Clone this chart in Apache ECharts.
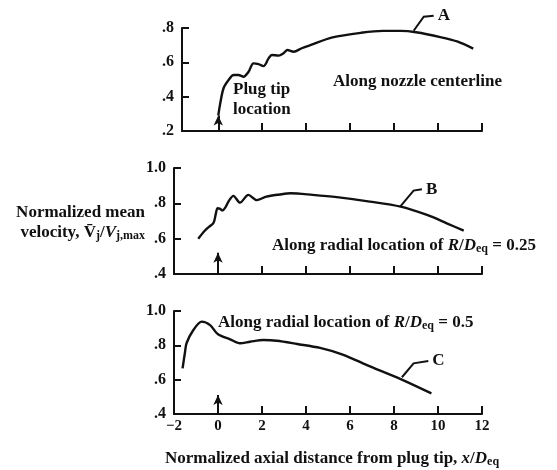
<!DOCTYPE html>
<html><head><meta charset="utf-8">
<script src="https://cdn.jsdelivr.net/npm/echarts@6/dist/echarts.min.js"></script>
<style>html,body{margin:0;padding:0;background:#fff}#c{width:557px;height:470px}</style>
</head><body><div id="c"></div>
<script>
// ---- data ----
const xTickValues = [2, 4, 6, 8, 10, 12];
const xLabelValues = [-2, 0, 2, 4, 6, 8, 10, 12];
// Curve A: along nozzle centerline
const aX = [0.0,0.09,0.24,0.47,0.7,0.92,1.15,1.38,1.6,1.83,2.06,2.29,2.44,2.75,2.97,3.15,3.43,3.8,4.19,5.2,6.5,7.5,8.3,9.0,10.1,10.9,11.6];
const aY = [0.29,0.361,0.449,0.497,0.526,0.526,0.516,0.545,0.594,0.59,0.578,0.623,0.643,0.639,0.653,0.672,0.662,0.682,0.70,0.745,0.772,0.783,0.783,0.775,0.747,0.72,0.68];
// Curve B: R/Deq = 0.25
const bX = [-0.9,-0.6,-0.4,-0.2,-0.1,-0.02,0.08,0.2,0.35,0.5,0.7,1.0,1.38,1.76,2.2,2.8,3.3,4.3,5.4,6.9,8.3,9.5,10.4,11.17];
const bY = [0.60,0.645,0.668,0.69,0.74,0.772,0.77,0.76,0.78,0.815,0.842,0.804,0.848,0.818,0.838,0.85,0.857,0.848,0.835,0.81,0.781,0.734,0.687,0.645];
// Curve C: R/Deq = 0.5
const cX = [-1.61,-1.5,-1.43,-1.12,-0.74,-0.36,0.0,0.55,1.0,1.46,2.06,2.67,3.6,4.64,5.7,6.77,8.28,9.7];
const cY = [0.666,0.76,0.812,0.889,0.938,0.918,0.864,0.835,0.812,0.821,0.831,0.827,0.808,0.785,0.745,0.685,0.605,0.52];
// y-axis ranges per panel
const yMin = [0.2, 0.4, 0.4];
const yMax = [0.8, 1.0, 1.0];
const xMin = [-1.65, -2, -2];
// plug tip arrow tip values
const arrowTip = [0.29, 0.52, 0.51];
// leader lines for curve labels [x,y] triplets
const leaderA = [[8.89,0.784],[9.35,0.866],[9.8,0.872]];
const leaderB = [[8.28,0.781],[8.89,0.872],[9.27,0.88]];
const leaderC = [[8.36,0.614],[8.89,0.695],[9.56,0.709]];
const curveNames = ['A', 'B', 'C'];

// ---- chart ----
const FONT = '"Liberation Serif", "DejaVu Serif", serif';
const INK = '#111';
const pairs = (xs, ys) => xs.map((x, i) => [x, ys[i]]);
const grids = [
  {left: 182, top: 28, width: 300, height: 103},
  {left: 174, top: 168, width: 308, height: 106},
  {left: 174, top: 311, width: 308, height: 103}
];
const fmtY = v => v.toFixed(1).replace(/^0/, '');
const fmtX = v => v < 0 ? '\u2212' + Math.abs(v) : String(v);

const xAxes = grids.map((g, i) => ({
  type: 'value', gridIndex: i, min: xMin[i], max: 12,
  axisLine: {show: true, onZero: false, lineStyle: {color: INK, width: 2}},
  axisTick: {show: true, inside: true, length: 8, customValues: xTickValues, lineStyle: {color: INK, width: 2}},
  splitLine: {show: false},
  axisLabel: i === 2 ? {show: true, customValues: xLabelValues, formatter: fmtX, color: INK, fontFamily: FONT, fontWeight: 'bold', fontSize: 15, margin: 5} : {show: false}
}));
const yAxes = grids.map((g, i) => ({
  type: 'value', gridIndex: i, min: yMin[i], max: yMax[i], interval: 0.2,
  axisLine: {show: true, onZero: false, lineStyle: {color: INK, width: 2}},
  axisTick: {show: true, inside: true, length: 7, lineStyle: {color: INK, width: 2}},
  splitLine: {show: false},
  axisLabel: {formatter: fmtY, color: INK, fontFamily: FONT, fontWeight: 'bold', fontSize: 16, margin: 8}
}));
const curves = [pairs(aX, aY), pairs(bX, bY), pairs(cX, cY)];
const series = curves.map((d, i) => ({
  type: 'line', xAxisIndex: i, yAxisIndex: i, data: d, smooth: 0.3,
  showSymbol: false, clip: false,
  lineStyle: {color: INK, width: 2.4},
  markLine: {
    silent: true, symbol: ['none', 'arrow'], symbolSize: [7, 10],
    lineStyle: {color: INK, width: 2, type: 'solid'}, label: {show: false},
    data: [[{coord: [0, yMin[i]]}, {coord: [0, arrowTip[i]]}]]
  }
}));

const chart = echarts.init(document.getElementById('c'), null, {renderer: 'canvas'});
chart.setOption({
  backgroundColor: '#fff',
  animation: false,
  grid: grids,
  xAxis: xAxes,
  yAxis: yAxes,
  series: series
});

const FS = 17;
const txt = (x, y, text, extra) => Object.assign({
  type: 'text', x: x, y: y, silent: true,
  style: Object.assign({text: text, fill: INK, font: 'bold ' + FS + 'px ' + FONT, textVerticalAlign: 'middle'}, extra || {})
});
const rich = {
  i: {fontStyle: 'italic', fontWeight: 'bold', fontSize: FS, fontFamily: FONT, fill: INK},
  sub: {fontSize: 12, fontWeight: 'bold', fontFamily: FONT, fill: INK, padding: [6, 0, 0, 0]}
};
const leaders = [leaderA, leaderB, leaderC];
const graphics = [];
leaders.forEach((pts, i) => {
  const px = pts.map(p => chart.convertToPixel({gridIndex: i}, p));
  graphics.push({type: 'polyline', silent: true, shape: {points: px}, style: {stroke: INK, lineWidth: 2, fill: null}});
  const end = px[px.length - 1];
  graphics.push(txt(end[0] + 4, end[1], curveNames[i]));
});
graphics.push(txt(333, 82, 'Along nozzle centerline'));
graphics.push(txt(233, 90, 'Plug tip'));
graphics.push(txt(233, 110, 'location'));
graphics.push(txt(272, 246, 'Along radial location of {i|R}/{i|D}{sub|eq} = 0.25', {rich: rich}));
graphics.push(txt(218, 323, 'Along radial location of {i|R}/{i|D}{sub|eq} = 0.5', {rich: rich}));
graphics.push(txt(145, 213, 'Normalized mean', {textAlign: 'right'}));
graphics.push(txt(145, 233, 'velocity, V\u0304{sub|j}/{i|V}{sub|j,max}', {textAlign: 'right', rich: rich}));
graphics.push(txt(332, 459, 'Normalized axial distance from plug tip, {i|x}/{i|D}{sub|eq}', {textAlign: 'center', rich: rich}));
chart.setOption({graphic: graphics});
</script>
</body></html>
